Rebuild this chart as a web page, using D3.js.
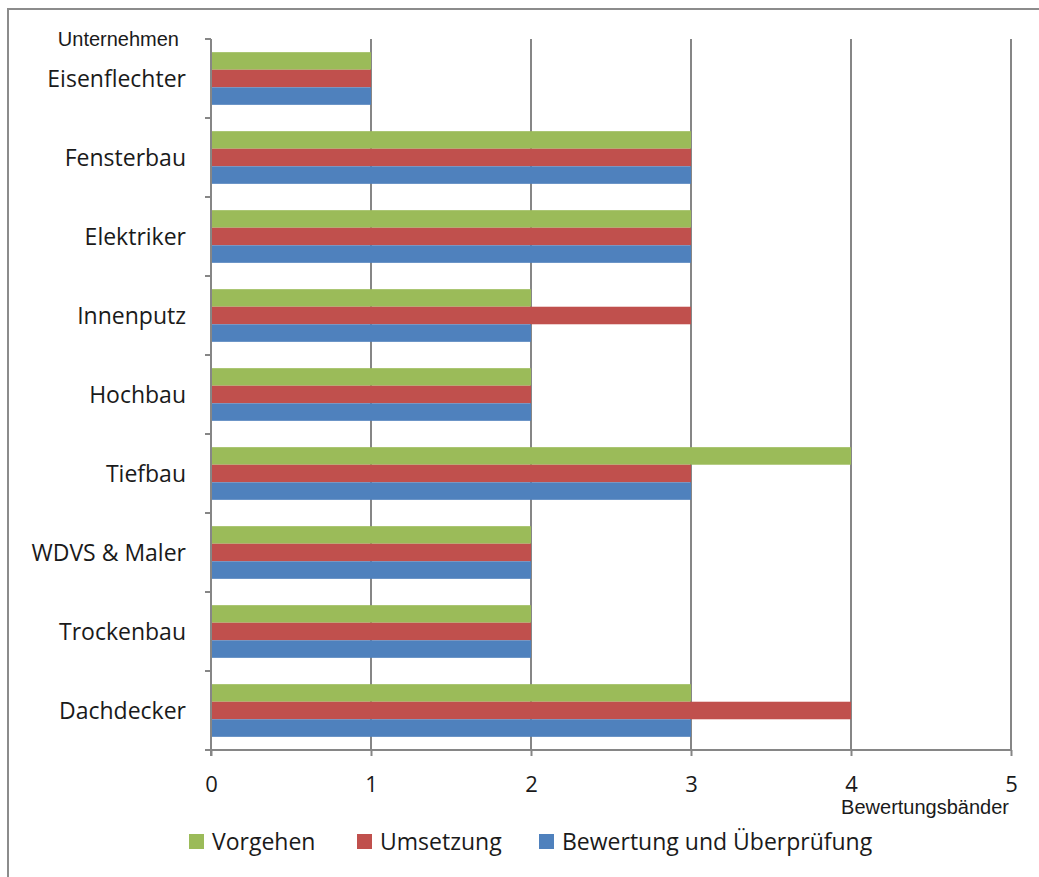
<!DOCTYPE html>
<html>
<head>
<meta charset="utf-8">
<script src="https://cdn.jsdelivr.net/npm/d3@7"></script>
<style>
  html, body { margin: 0; padding: 0; background: #fff; }
  svg { display: block; }
</style>
</head>
<body>
<svg id="chart" width="1039" height="877"></svg>
<script>
// Unternehmen (top to bottom) and scores per assessment area
const categories = ["Eisenflechter", "Fensterbau", "Elektriker", "Innenputz", "Hochbau",
                    "Tiefbau", "WDVS & Maler", "Trockenbau", "Dachdecker"];
const vorgehen   = [1, 3, 3, 2, 2, 4, 2, 2, 3];
const umsetzung  = [1, 3, 3, 3, 2, 3, 2, 2, 4];
const bewertung  = [1, 3, 3, 2, 2, 3, 2, 2, 3];
const seriesNames  = ["Vorgehen", "Umsetzung", "Bewertung und Überprüfung"];
const seriesColors = ["#9BBB59", "#C0504D", "#4F81BD"];
const xTicks = [0, 1, 2, 3, 4, 5];

const series = [vorgehen, umsetzung, bewertung];

const svg = d3.select("#chart");
const labelFont = "'Open Sans', 'Noto Sans', sans-serif";
const smallFont = "'Liberation Sans', Arial, sans-serif";
const textColor = "#1a1a1a";
const axisColor = "#868686";

// Outer frame (only left and top edges fall inside the canvas)
svg.append("rect")
  .attr("x", 8).attr("y", 9).attr("width", 1100).attr("height", 1000)
  .attr("fill", "none").attr("stroke", "#8c8c8c").attr("stroke-width", 2);

const plot = { left: 211, right: 1011, top: 39, bottom: 750 };

const x = d3.scaleLinear().domain([0, 5]).range([plot.left, plot.right]);
const y = d3.scaleBand().domain(categories).range([plot.top, plot.bottom]);
const inner = d3.scaleBand().domain(d3.range(series.length))
  .range([0, y.bandwidth()]).paddingInner(0).paddingOuter(0.75);

// Vertical gridlines
svg.append("g").selectAll("line").data(xTicks.filter(d => d > 0)).join("line")
  .attr("x1", d => x(d)).attr("x2", d => x(d))
  .attr("y1", plot.top).attr("y2", plot.bottom)
  .attr("stroke", axisColor).attr("stroke-width", 2);

// Bars
const groups = svg.append("g").selectAll("g").data(categories).join("g")
  .attr("transform", d => `translate(0,${y(d)})`);
groups.selectAll("rect")
  .data((c, i) => series.map((s, k) => ({ k, v: s[i] })))
  .join("rect")
  .attr("x", x(0))
  .attr("y", d => inner(d.k))
  .attr("width", d => x(d.v) - x(0))
  .attr("height", inner.bandwidth())
  .attr("fill", d => seriesColors[d.k]);

// Y axis (category boundaries as ticks)
const yAxis = svg.append("g");
yAxis.append("line")
  .attr("x1", plot.left).attr("x2", plot.left)
  .attr("y1", plot.top).attr("y2", plot.bottom + 6)
  .attr("stroke", axisColor).attr("stroke-width", 2);
const boundaries = categories.map(c => y(c)).concat([plot.bottom]);
yAxis.selectAll("line.tick").data(boundaries).join("line")
  .attr("class", "tick")
  .attr("x1", plot.left - 6).attr("x2", plot.left)
  .attr("y1", d => d).attr("y2", d => d)
  .attr("stroke", axisColor).attr("stroke-width", 2);
yAxis.selectAll("text").data(categories).join("text")
  .attr("x", 186)
  .attr("y", d => y(d) + y.bandwidth() / 2)
  .attr("dy", "0.35em")
  .attr("text-anchor", "end")
  .attr("font-family", labelFont)
  .attr("font-size", 23)
  .attr("fill", textColor)
  .text(d => d);

// X axis
const xAxis = svg.append("g").attr("transform", `translate(0,${plot.bottom})`)
  .call(d3.axisBottom(x).tickValues(xTicks).tickSize(6).tickPadding(20).tickFormat(d3.format("d")));
xAxis.select(".domain").attr("stroke", axisColor).attr("stroke-width", 2)
  .attr("d", `M${plot.left},0H${plot.right}`);
xAxis.selectAll(".tick line").attr("stroke", axisColor).attr("stroke-width", 2);
xAxis.selectAll(".tick text")
  .attr("font-family", labelFont).attr("font-size", 22).attr("fill", textColor);

// Axis titles
svg.append("text")
  .attr("x", 179).attr("y", 46)
  .attr("text-anchor", "end")
  .attr("font-family", smallFont).attr("font-size", 20).attr("fill", textColor)
  .text("Unternehmen");
svg.append("text")
  .attr("x", 1009).attr("y", 814)
  .attr("text-anchor", "end")
  .attr("font-family", smallFont).attr("font-size", 20).attr("fill", textColor)
  .text("Bewertungsbänder");

// Legend
const legendX = [189, 357, 539];
const legend = svg.append("g").selectAll("g").data(seriesNames).join("g")
  .attr("transform", (d, i) => `translate(${legendX[i]},842)`);
legend.append("rect")
  .attr("x", 0).attr("y", -8).attr("width", 15).attr("height", 15)
  .attr("fill", (d, i) => seriesColors[i]);
legend.append("text")
  .attr("x", 23).attr("y", 0).attr("dy", "0.35em")
  .attr("font-family", labelFont).attr("font-size", 23).attr("fill", textColor)
  .text(d => d);
</script>
</body>
</html>
